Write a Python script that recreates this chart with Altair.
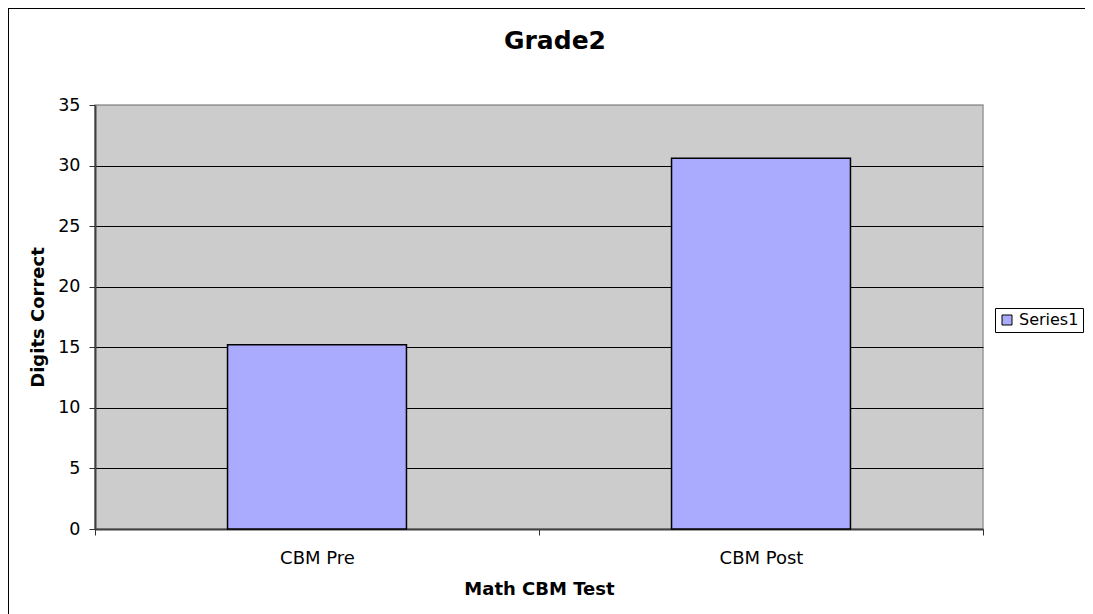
import altair as alt
import pandas as pd

categories = ["CBM Pre", "CBM Post"]
values = [15.2, 30.6]
series = ["Series1", "Series1"]
y_ticks = [0, 5, 10, 15, 20, 25, 30, 35]

df = pd.DataFrame({"test": categories, "digits": values, "series": series})

FONT = "DejaVu Sans"

bars = alt.Chart(df).mark_bar(
    width={"band": 0.403}, stroke="black", strokeWidth=1.5
).encode(
    x=alt.X(
        "test:N",
        sort=categories,
        scale=alt.Scale(paddingInner=0, paddingOuter=0),
        axis=alt.Axis(
            title="Math CBM Test",
            labelAngle=0,
            tickBand="extent",
            tickSize=6,
            tickColor="#303030",
            domainColor="#404040",
            domainWidth=2,
            labelFontSize=18,
            labelFont=FONT,
            labelColor="black",
            labelPadding=14,
            titleFont=FONT,
            titleFontSize=18,
            titleFontWeight="bold",
            titleColor="black",
            titlePadding=13,
            grid=False,
        ),
    ),
    y=alt.Y(
        "digits:Q",
        scale=alt.Scale(domain=[0, 35], nice=False),
        axis=alt.Axis(
            title="Digits Correct",
            values=y_ticks,
            tickSize=6,
            tickColor="#303030",
            domainColor="#404040",
            domainWidth=2,
            labelFontSize=17.5,
            labelFont=FONT,
            labelColor="black",
            labelPadding=9,
            titleFont=FONT,
            titleFontSize=18,
            titleFontWeight="bold",
            titleColor="black",
            titlePadding=10,
            grid=True,
            gridColor=alt.condition("datum.value == 35", alt.value("#999999"), alt.value("black")),
            gridWidth=1,
        ),
    ),
    color=alt.Color(
        "series:N",
        scale=alt.Scale(range=["#AAAAFF"]),
        legend=alt.Legend(
            title=None,
            orient="none",
            legendX=900,
            legendY=203,
            strokeColor="black",
            padding=4,
            symbolType="square",
            symbolSize=100,
            symbolStrokeColor="black",
            symbolStrokeWidth=1,
            labelFont=FONT,
            labelFontSize=16,
            labelColor="black",
            fillColor="white",
        ),
    ),
)

frame = alt.Chart(pd.DataFrame({"f": [0]})).mark_rect(
    fillOpacity=0, stroke="black", strokeWidth=2
).encode(
    x=alt.value(-87), x2=alt.value(1100), y=alt.value(-97), y2=alt.value(700)
)

chart = alt.layer(bars, frame).properties(
    width=888,
    height=424,
    autosize=alt.AutoSizeParams(type="none"),
    padding={"left": 87, "top": 97, "right": 102, "bottom": 85},
    title=alt.TitleParams(
        "Grade2",
        font=FONT,
        fontSize=25,
        fontWeight="bold",
        color="black",
        anchor="middle",
        baseline="bottom",
        offset=-72,
        dx=16,
    ),
    background="white",
).configure_view(
    fill="#CCCCCC", stroke="#999999", strokeWidth=1.5
)

chart.save("out.html", embed_options={"renderer": "svg", "actions": False})
